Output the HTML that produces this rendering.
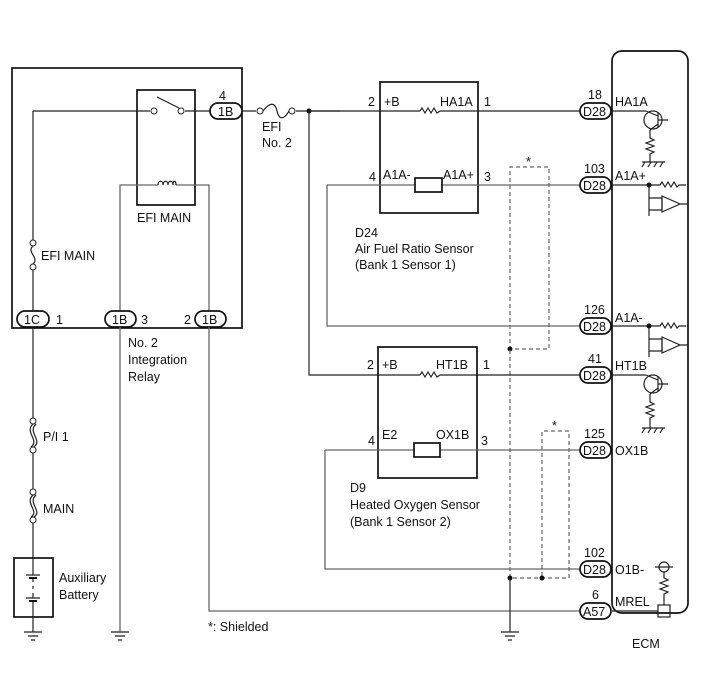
<!DOCTYPE html>
<html><head><meta charset="utf-8"><style>
html,body{margin:0;padding:0;background:#fff;}
svg{display:block;}
text{font-family:"Liberation Sans",Arial,sans-serif;font-size:12.5px;fill:#111;}
.t{stroke:#222;stroke-width:1.2;fill:none;}
.k{stroke:#111;stroke-width:1.7;fill:none;}
.g{stroke:#666;stroke-width:1.3;fill:none;}
.d{stroke:#666;stroke-width:1.2;fill:none;stroke-dasharray:4,3;}
</style></head><body>
<svg width="713" height="681" viewBox="0 0 713 681" xmlns="http://www.w3.org/2000/svg">
<rect x="12" y="68" width="230" height="260" class="k"/>
<rect x="137" y="90" width="58" height="115" class="k"/>
<path class="t" d="M33 111 H150 M185 111 H210"/>
<circle cx="154" cy="111" r="3" fill="#fff" stroke="#222"/>
<circle cx="181" cy="111" r="3" fill="#fff" stroke="#222"/>
<path class="t" d="M157 97 L179 108"/>
<text x="219" y="100">4</text>
<rect x="210" y="103" width="32" height="16" rx="8" fill="#fff" stroke="#111" stroke-width="1.7"/>
<text x="218" y="116">1B</text>
<path class="t" d="M242 111 H256 M296 111 H340"/>
<circle cx="260" cy="111" r="3" fill="#fff" stroke="#222"/>
<circle cx="292" cy="111" r="3" fill="#fff" stroke="#222"/>
<path class="t" d="M263 111 C270 102 275 102 277 111 C279 120 284 120 289 111"/>
<circle cx="309" cy="111" r="2.5" fill="#111"/>
<text x="262" y="131">EFI</text><text x="262" y="147">No. 2</text>
<path class="t" d="M33 111 V241 M33 269 V311"/>
<circle cx="33" cy="243" r="3" fill="#fff" stroke="#222"/>
<circle cx="33" cy="267" r="3" fill="#fff" stroke="#222"/>
<path class="t" d="M33 246 C26 252 40 258 33 264"/>
<text x="41" y="260">EFI MAIN</text>
<path class="g" d="M120 311 V185 H158 M176 185 H209 V311"/>
<path class="t" d="M158 185 c0-5 5-5 5 0 c0-5 5-5 5 0 c0-5 5-5 5 0 c0-5 3-5 3 0"/>
<text x="137" y="222">EFI MAIN</text>
<rect x="17" y="311" width="32" height="16" rx="8" fill="#fff" stroke="#111" stroke-width="1.7"/><text x="24" y="324">1C</text><text x="56" y="324">1</text>
<rect x="105" y="311" width="31" height="16" rx="8" fill="#fff" stroke="#111" stroke-width="1.7"/><text x="112" y="324">1B</text><text x="141" y="324">3</text>
<text x="184" y="324">2</text><rect x="195" y="311" width="31" height="16" rx="8" fill="#fff" stroke="#111" stroke-width="1.7"/><text x="202" y="324">1B</text>
<text x="128" y="347">No. 2</text><text x="128" y="364">Integration</text><text x="128" y="381">Relay</text>
<path class="t" d="M33 327 V419 M33 453 V489 M33 523 V558 M33 617 V632"/>
<path class="t" d="M24 632 H42 M28 636 H38 M31 640 H35"/>
<circle cx="33" cy="421" r="3" fill="#fff" stroke="#222"/><circle cx="33" cy="450" r="3" fill="#fff" stroke="#222"/>
<path class="t" d="M33 424 C24 432 40 440 31 447 M36 424 C27 432 43 440 34 447"/>
<text x="43" y="441">P/I 1</text>
<circle cx="33" cy="492" r="3" fill="#fff" stroke="#222"/><circle cx="33" cy="520" r="3" fill="#fff" stroke="#222"/>
<path class="t" d="M33 495 C24 503 40 511 31 517 M36 495 C27 503 43 511 34 517"/>
<text x="43" y="513">MAIN</text>
<rect x="14" y="558" width="39" height="59" class="k"/>
<path class="t" d="M33 558 V575 M26 575 H40 M33 578 V582 M33 586 V589 M33 593 V598 M26 598 H40 M33 601 V617"/>
<path stroke="#111" stroke-width="2" d="M29 578 H37 M29 601 H37"/>
<text x="59" y="582">Auxiliary</text><text x="59" y="599">Battery</text>
<path class="g" d="M120 327 V632"/>
<path class="t" d="M111 632 H129 M115 636 H125 M118 640 H122"/>
<path class="g" d="M209 327 V611 H580"/>
<text x="208" y="631">*: Shielded</text>
<rect x="380" y="82" width="98" height="131" class="k"/>
<path class="t" d="M309 111 H420 M440 111 H580"/>
<path class="t" d="M420 111 l2 -3 l3 5 l3 -5 l3 5 l3 -5 l3 5 l3 -2"/>
<text x="368" y="106">2</text><text x="384" y="106">+B</text><text x="440" y="106">HA1A</text><text x="484" y="106">1</text>
<path class="g" d="M327 185 H415 M442 185 H580 M327 185 V326 H580"/>
<rect x="415" y="178" width="27" height="14" fill="#fff" stroke="#111" stroke-width="1.7"/>
<text x="369" y="181">4</text><text x="383" y="179">A1A-</text><text x="443" y="179">A1A+</text><text x="484" y="181">3</text>
<text x="355" y="237">D24</text><text x="355" y="253">Air Fuel Ratio Sensor</text><text x="355" y="269">(Bank 1 Sensor 1)</text>
<path class="d" d="M510 350 V167 H549 V349 H512"/>
<circle cx="510" cy="349" r="2.5" fill="#111"/>
<text x="526" y="166">*</text>
<path class="d" d="M510 350 V578 H569 V431 H542 V578"/>
<circle cx="510" cy="578" r="2.5" fill="#111"/><circle cx="542" cy="578" r="2.5" fill="#111"/>
<text x="552" y="430">*</text>
<path class="t" d="M510 578 V632 M501 632 H519 M505 636 H515 M508 640 H512"/>
<path class="t" d="M309 111 V375 H420 M440 375 H580"/>
<path class="t" d="M420 375 l2 -3 l3 5 l3 -5 l3 5 l3 -5 l3 5 l3 -2"/>
<rect x="378" y="347" width="99" height="131" class="k"/>
<text x="367" y="369">2</text><text x="382" y="369">+B</text><text x="436" y="369">HT1B</text><text x="483" y="369">1</text>
<path class="g" d="M325 450 H414 M440 450 H580 M325 450 V569 H580"/>
<rect x="414" y="443" width="26" height="14" fill="#fff" stroke="#111" stroke-width="1.7"/>
<text x="368" y="445">4</text><text x="382" y="439">E2</text><text x="436" y="439">OX1B</text><text x="481" y="445">3</text>
<text x="350" y="492">D9</text><text x="350" y="509">Heated Oxygen Sensor</text><text x="350" y="526">(Bank 1 Sensor 2)</text>
<rect x="612" y="51" width="76" height="562" rx="10" class="k"/>
<text x="632" y="648">ECM</text>
<g>
<rect x="580" y="103" width="31" height="16" rx="8" fill="#fff" stroke="#111" stroke-width="1.7"/><text x="583" y="116">D28</text><text x="588" y="99">18</text>
<rect x="580" y="177" width="31" height="16" rx="8" fill="#fff" stroke="#111" stroke-width="1.7"/><text x="583" y="190">D28</text><text x="584" y="173">103</text>
<rect x="580" y="318" width="31" height="16" rx="8" fill="#fff" stroke="#111" stroke-width="1.7"/><text x="583" y="331">D28</text><text x="584" y="314">126</text>
<rect x="580" y="367" width="31" height="16" rx="8" fill="#fff" stroke="#111" stroke-width="1.7"/><text x="583" y="380">D28</text><text x="588" y="363">41</text>
<rect x="580" y="442" width="31" height="16" rx="8" fill="#fff" stroke="#111" stroke-width="1.7"/><text x="583" y="455">D28</text><text x="584" y="438">125</text>
<rect x="580" y="561" width="31" height="16" rx="8" fill="#fff" stroke="#111" stroke-width="1.7"/><text x="583" y="574">D28</text><text x="584" y="557">102</text>
<rect x="580" y="603" width="31" height="16" rx="8" fill="#fff" stroke="#111" stroke-width="1.7"/><text x="583" y="616">A57</text><text x="592" y="599">6</text>
</g>
<text x="615" y="106">HA1A</text><text x="615" y="180">A1A+</text><text x="615" y="322">A1A-</text><text x="615" y="370">HT1B</text>
<text x="615" y="455">OX1B</text><text x="615" y="574">O1B-</text><text x="615" y="606">MREL</text>
<path class="t" d="M612 111 H646"/>
<circle cx="653" cy="120" r="9" class="t" stroke-width="1.6"/>
<path class="t" d="M658 112 V128 M658 120 H668 M646 111 L658 116 M658 124 L650 130 V138 l4 2 l-8 3 l8 3 l-8 3 l8 3 l-4 2 V162 M642 162 H665 M645 162 l-3 5 M651 162 l-3 5 M657 162 l-3 5 M663 162 l-3 5"/>
<path class="t" d="M612 185 H660 l2 -3 l3 5 l3 -5 l3 5 l3 -5 l3 5 l2 -2 H686 M649 185 V216 M649 198 H662 V210 M649 210 H662"/>
<path class="t" d="M662 196 V212 L680 204 Z M680 204 H688"/>
<circle cx="649" cy="185" r="2.5" fill="#111"/>
<path class="t" d="M612 326 H660 l2 -3 l3 5 l3 -5 l3 5 l3 -5 l3 5 l2 -2 H686 M649 326 V357 M649 339 H662 V351 M649 351 H662"/>
<path class="t" d="M662 337 V353 L680 345 Z M680 345 H688"/>
<circle cx="649" cy="326" r="2.5" fill="#111"/>
<path class="t" d="M612 375 H646"/>
<circle cx="653" cy="384" r="9" class="t" stroke-width="1.6"/>
<path class="t" d="M658 376 V392 M658 384 H668 M646 375 L658 380 M658 388 L650 394 V402 l4 2 l-8 3 l8 3 l-8 3 l8 3 l-4 2 V428 M642 428 H665 M645 428 l-3 5 M651 428 l-3 5 M657 428 l-3 5 M663 428 l-3 5"/>
<circle cx="664" cy="567" r="5" class="t"/>
<path class="t" d="M655 567 H673 M664 572 V578 l4 2 l-8 3 l8 3 l-8 3 l8 3 l-4 2 V605 M612 611 H658"/>
<rect x="658" y="605" width="12" height="12" class="t" stroke-width="1.4"/>
</svg>
</body></html>
